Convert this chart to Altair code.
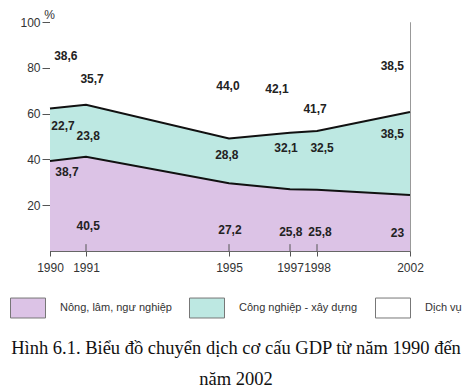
import altair as alt
import pandas as pd

years = [1990, 1991, 1995, 1997, 1998, 2002]
x_range = [0, 36, 179, 240, 267, 360]  # uneven year spacing as drawn
agri_top = [39.3, 41.1, 29.6, 27.0, 26.7, 24.5]
ind_top = [62.2, 63.9, 49.1, 51.6, 52.4, 60.7]

sectors = ["Nông, lâm, ngư nghiệp", "Công nghiệp - xây dựng", "Dịch vụ"]
colors = ["#dcc3e6", "#bde8e2", "#ffffff"]

label_text = ["38,6", "35,7", "44,0", "42,1", "41,7", "38,5",
              "22,7", "23,8", "28,8", "32,1", "32,5", "38,5",
              "38,7", "40,5", "27,2", "25,8", "25,8", "23"]
label_year = [1990.44, 1991.17, 1994.97, 1996.57, 1997.93, 2001.24,
              1990.36, 1991.06, 1994.94, 1996.87, 1998.22, 2001.24,
              1990.47, 1991.06, 1995.03, 1997.03, 1998.13, 2001.46]
label_pos = [85.2, 75.1, 72.1, 70.7, 62.0, 80.8,
             54.6, 50.2, 41.9, 45.0, 45.0, 51.1,
             34.5, 10.9, 9.2, 8.3, 8.3, 7.9]

caption = ["Hình 6.1. Biểu đồ chuyển dịch cơ cấu GDP từ năm 1990 đến", "năm 2002"]

rows = []
for i, yr in enumerate(years):
    rows.append({"year": yr, "sector": sectors[0], "lo": 0, "hi": agri_top[i]})
    rows.append({"year": yr, "sector": sectors[1], "lo": agri_top[i], "hi": ind_top[i]})
    rows.append({"year": yr, "sector": sectors[2], "lo": ind_top[i], "hi": 100})
areas_df = pd.DataFrame(rows)

lines_df = pd.DataFrame(
    [{"year": yr, "b": "agri", "v": agri_top[i]} for i, yr in enumerate(years)]
    + [{"year": yr, "b": "ind", "v": ind_top[i]} for i, yr in enumerate(years)]
)
labels_df = pd.DataFrame({"year": label_year, "v": label_pos, "t": label_text})
ticks_df = pd.DataFrame({"year": years[1:-1]})

xscale = alt.Scale(domain=years, range=x_range, nice=False, zero=False)
yscale = alt.Scale(domain=[0, 100], nice=False)

xaxis = alt.Axis(values=years, format="d", title=None, grid=False,
                 tickSize=5, tickColor="#555", domainColor="#666",
                 labelFont="Liberation Sans", labelFontSize=12, labelColor="#333",
                 labelPadding=6, labelOverlap=False, labelFlush=False)
yaxis = alt.Axis(values=[20, 40, 60, 80, 100], title="%", titleAngle=0,
                 titleX=-1, titleY=-8, titleAlign="center", titleBaseline="middle",
                 titleFontWeight="normal", titleFont="Liberation Sans", titleFontSize=12,
                 titleColor="#333", grid=False, tickSize=8, tickColor="#555",
                 domainColor="#444", labelFont="Liberation Sans", labelFontSize=12,
                 labelColor="#333", labelPadding=2, labelOverlap=False, labelFlush=False)

area = alt.Chart(areas_df).mark_area(opacity=1).encode(
    x=alt.X("year:Q", scale=xscale, axis=xaxis),
    y=alt.Y("hi:Q", scale=yscale, axis=yaxis),
    y2="lo:Q",
    color=alt.Color("sector:N", scale=alt.Scale(domain=sectors, range=colors),
                    legend=alt.Legend(title=None, orient="none", legendX=-40, legendY=268,
                                      direction="horizontal", padding=0,
                                      symbolType="M-1,-0.57L1,-0.57L1,0.57L-1,0.57Z",
                                      symbolSize=1225, symbolStrokeColor="#777",
                                      symbolStrokeWidth=1, symbolOpacity=1,
                                      labelFont="Liberation Sans", labelFontSize=11,
                                      labelColor="#333", labelOffset=14,
                                      columnPadding=15, labelLimit=300)),
    detail="sector:N",
)

lines = alt.Chart(lines_df).mark_line(color="#111", strokeWidth=2).encode(
    x=alt.X("year:Q", scale=xscale),
    y=alt.Y("v:Q", scale=yscale),
    detail="b:N",
)

inner_ticks = alt.Chart(ticks_df).mark_rule(color="#555", strokeWidth=1).encode(
    x=alt.X("year:Q", scale=xscale),
    y=alt.datum(0),
    y2=alt.datum(3),
)

texts = alt.Chart(labels_df).mark_text(font="Liberation Sans", fontSize=12,
                                       fontWeight="bold", color="#222").encode(
    x=alt.X("year:Q", scale=xscale),
    y=alt.Y("v:Q", scale=yscale),
    text="t:N",
)

chart = alt.layer(area, lines, inner_ticks, texts).properties(
    width=360, height=229,
    autosize=alt.AutoSizeParams(type="none"),
    padding={"left": 42, "top": 14, "right": 56, "bottom": 137},
    title=alt.TitleParams(text=caption, orient="bottom", anchor="middle", frame="group",
                          offset=19, dx=6, font="Liberation Serif", fontSize=18.5,
                          fontWeight="normal", color="#111", lineHeight=31),
).configure_view(stroke="#999", strokeWidth=1)

chart.save("out.html", embed_options={"renderer": "svg", "actions": False})
